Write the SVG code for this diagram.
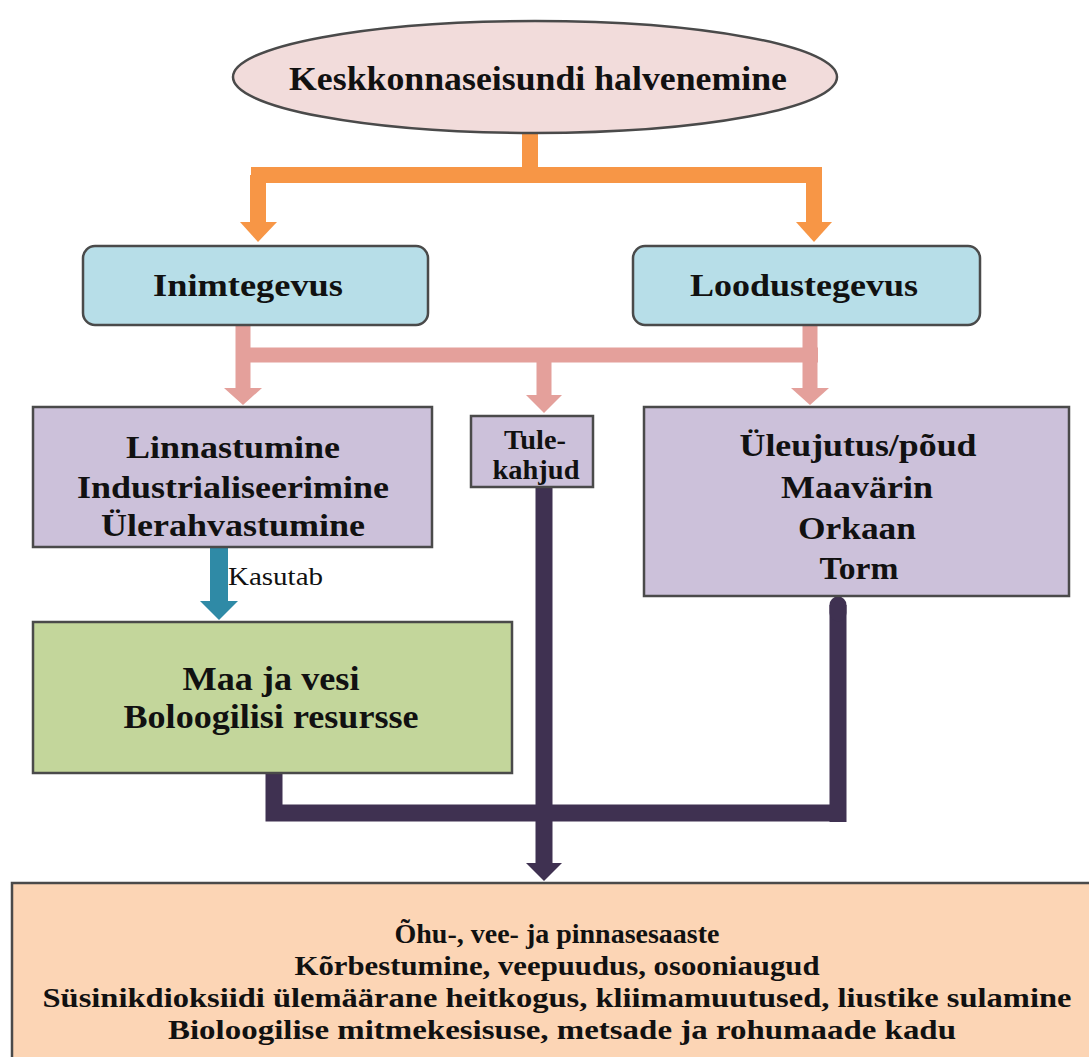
<svg xmlns="http://www.w3.org/2000/svg" width="1089" height="1057" viewBox="0 0 1089 1057">
<style>
.t{font-family:"Liberation Serif","Times New Roman",serif;font-weight:bold;fill:#111;text-anchor:middle}
.r{font-family:"Liberation Serif","Times New Roman",serif;fill:#111}
.box{stroke:#4a4a4a;stroke-width:2.5}
.or{stroke:#f79646;stroke-width:16;fill:none}
.pk{stroke:#e4a09b;stroke-width:15;fill:none}
.dk{stroke:#3f3151;stroke-width:17;fill:none}
</style>
<rect width="1089" height="1057" fill="#ffffff"/>
<g id="connectors">
  <path class="or" d="M530 133V175M251 175H822M258 175V224M814 175V224"/>
  <polygon fill="#f79646" points="240,222 277,222 258,242"/>
  <polygon fill="#f79646" points="796,222 832,222 814,242"/>
  <path class="pk" d="M243 325V390M243 355H818M544 355V396M810 325V390"/>
  <polygon fill="#e4a09b" points="224,388 262,388 243,405"/>
  <polygon fill="#e4a09b" points="526,395 562,395 544,413"/>
  <polygon fill="#e4a09b" points="791,388 829,388 810,405"/>
  <path d="M219 548V603" stroke="#2f8aa6" stroke-width="18" fill="none"/>
  <polygon fill="#2f8aa6" points="200,601 238,601 219,620"/>
  <text class="r" x="228" y="585" font-size="26" textLength="95" lengthAdjust="spacingAndGlyphs">Kasutab</text>
  <path class="dk" d="M274 773V813H838M838 605V822M544 487V865"/>
  <path class="dk" d="M838 605V613" stroke-linecap="round"/>
  <polygon fill="#3f3151" points="526,863 562,863 544,881"/>
</g>
<g id="n-root">
  <ellipse cx="535" cy="77" rx="302" ry="56" fill="#f2dcdb" class="box"/>
  <text class="t" x="538" y="90" font-size="34" textLength="498" lengthAdjust="spacingAndGlyphs">Keskkonnaseisundi halvenemine</text>
</g>
<g id="n-inim">
  <rect x="83" y="246" width="345" height="79" rx="12" fill="#b7dee8" class="box"/>
  <text class="t" x="248" y="296" font-size="32" textLength="190" lengthAdjust="spacingAndGlyphs">Inimtegevus</text>
</g>
<g id="n-loodus">
  <rect x="633" y="246" width="347" height="79" rx="12" fill="#b7dee8" class="box"/>
  <text class="t" x="804" y="296" font-size="32" textLength="228" lengthAdjust="spacingAndGlyphs">Loodustegevus</text>
</g>
<g id="n-linn">
  <rect x="33" y="407" width="399" height="140" fill="#ccc1da" class="box"/>
  <text class="t" x="233" y="458" font-size="32" textLength="214" lengthAdjust="spacingAndGlyphs">Linnastumine</text>
  <text class="t" x="233" y="498" font-size="32" textLength="312" lengthAdjust="spacingAndGlyphs">Industrialiseerimine</text>
  <text class="t" x="233" y="536" font-size="32" textLength="264" lengthAdjust="spacingAndGlyphs">Ülerahvastumine</text>
</g>
<g id="n-tule">
  <rect x="471" y="416" width="122" height="71" fill="#ccc1da" class="box"/>
  <text class="t" x="535" y="449" font-size="28" textLength="62" lengthAdjust="spacingAndGlyphs">Tule-</text>
  <text class="t" x="536" y="479" font-size="28" textLength="87" lengthAdjust="spacingAndGlyphs">kahjud</text>
</g>
<g id="n-loodus-list">
  <rect x="644" y="407" width="425" height="189" fill="#ccc1da" class="box"/>
  <text class="t" x="858" y="456" font-size="32" textLength="237" lengthAdjust="spacingAndGlyphs">Üleujutus/põud</text>
  <text class="t" x="857" y="498" font-size="32" textLength="152" lengthAdjust="spacingAndGlyphs">Maavärin</text>
  <text class="t" x="857" y="539" font-size="32" textLength="118" lengthAdjust="spacingAndGlyphs">Orkaan</text>
  <text class="t" x="859" y="579" font-size="32" textLength="79" lengthAdjust="spacingAndGlyphs">Torm</text>
</g>
<g id="n-ressursid">
  <rect x="33" y="622" width="479" height="151" fill="#c3d69b" class="box"/>
  <text class="t" x="271" y="690" font-size="34" textLength="177" lengthAdjust="spacingAndGlyphs">Maa ja vesi</text>
  <text class="t" x="271" y="728" font-size="34" textLength="295" lengthAdjust="spacingAndGlyphs">Boloogilisi resursse</text>
</g>
<g id="n-tagajarjed">
  <rect x="12" y="883" width="1090" height="180" fill="#fcd5b5" class="box"/>
  <text class="t" x="557" y="943" font-size="28" textLength="325" lengthAdjust="spacingAndGlyphs">Õhu-, vee- ja pinnasesaaste</text>
  <text class="t" x="557" y="975" font-size="28" textLength="525" lengthAdjust="spacingAndGlyphs">Kõrbestumine, veepuudus, osooniaugud</text>
  <text class="t" x="557" y="1007" font-size="28" textLength="1029" lengthAdjust="spacingAndGlyphs">Süsinikdioksiidi ülemäärane heitkogus, kliimamuutused, liustike sulamine</text>
  <text class="t" x="562" y="1039" font-size="28" textLength="788" lengthAdjust="spacingAndGlyphs">Bioloogilise mitmekesisuse, metsade ja rohumaade kadu</text>
</g>
</svg>
